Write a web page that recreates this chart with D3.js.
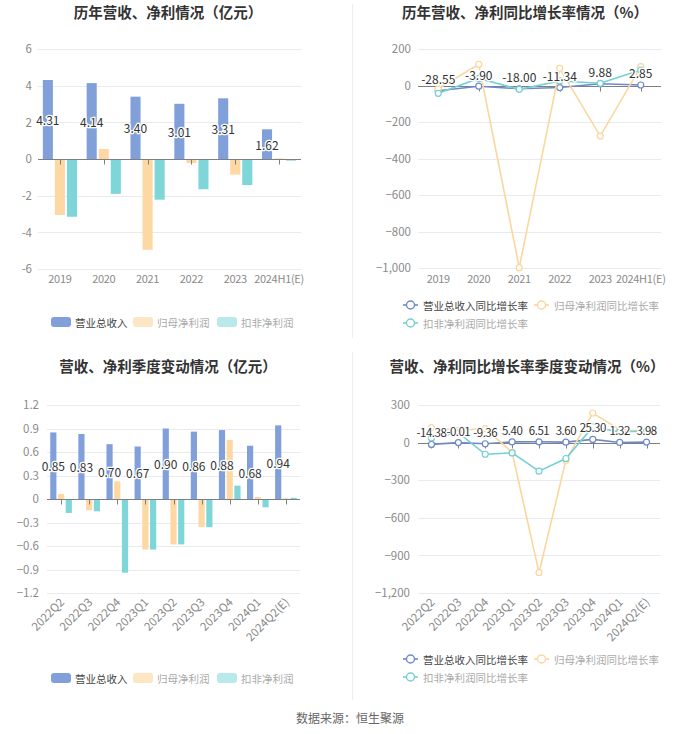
<!DOCTYPE html>
<html><head><meta charset="utf-8">
<script src="https://cdn.jsdelivr.net/npm/d3@7/dist/d3.min.js"></script>
<style>
html,body{margin:0;padding:0;background:#fff;}
svg{display:block;font-family:"Noto Sans CJK SC","Noto Sans",sans-serif;}
</style></head>
<body><svg id="c" width="700" height="734"></svg>
<script>
const yearCats = ["2019","2020","2021","2022","2023","2024H1(E)"];
const yearRevenue = [4.31,4.14,3.40,3.01,3.31,1.62];
const yearNetProfit = [-3.05,0.55,-4.95,-0.22,-0.85,0.03];
const yearDeductedProfit = [-3.15,-1.90,-2.22,-1.65,-1.42,-0.09];
const yearRevenueGrowth = [-28.55,-3.90,-18.00,-11.34,9.88,2.85];
const yearNetGrowth = [-18,116,-998,94,-277,103];
const yearDeductedGrowth = [-43,39,-21,25,12,85];

const quarterCats = ["2022Q2","2022Q3","2022Q4","2023Q1","2023Q2","2023Q3","2023Q4","2024Q1","2024Q2(E)"];
const quarterRevenue = [0.85,0.83,0.70,0.67,0.90,0.86,0.88,0.68,0.94];
const quarterNetProfit = [0.064,-0.144,0.225,-0.645,-0.58,-0.356,0.755,0.025,0.01];
const quarterDeductedProfit = [-0.178,-0.157,-0.94,-0.645,-0.58,-0.36,0.17,-0.106,0.015];
const quarterRevenueGrowth = [-14.38,-0.01,-9.36,5.40,6.51,3.60,25.30,1.32,3.98];
const quarterNetGrowth = [120,98,111,-77,-1038,-141,236,104,90];
const quarterDeductedGrowth = [37,80,-93,-82,-228,-127,125,85,93];

const barNames = ["营业总收入","归母净利润","扣非净利润"];
const lineNames = ["营业总收入同比增长率","归母净利润同比增长率","扣非净利润同比增长率"];
const titles = ["历年营收、净利情况（亿元）","历年营收、净利同比增长率情况（%）","营收、净利季度变动情况（亿元）","营收、净利同比增长率季度变动情况（%）"];
const yearBarTicks = [-6,-4,-2,0,2,4,6];
const yearLineTicks = [-1000,-800,-600,-400,-200,0,200];
const quarterBarTicks = [-1.2,-0.9,-0.6,-0.3,0,0.3,0.6,0.9,1.2];
const quarterLineTicks = [-1200,-900,-600,-300,0,300];
const sourceText = "数据来源：恒生聚源";

const barColors = ["#81a0da","#fdd8a2","#7fd6d8"];
const legendBarColors = ["#81a0da","#fde6c4","#b9e9ea"];
const lineColors = ["#6f89c8","#fbd69e","#74d0d4"];
const legendTextColors = ["#444","#aaa","#aaa"];

const svg = d3.select("#c");

svg.append("line").attr("x1",352.5).attr("x2",352.5).attr("y1",4).attr("y2",338).attr("stroke","#eeeeee");
svg.append("line").attr("x1",352.5).attr("x2",352.5).attr("y1",352).attr("y2",700).attr("stroke","#eeeeee");

function title(t,x,y){
  svg.append("text").attr("x",x).attr("y",y).attr("text-anchor","middle")
    .attr("font-size",14.5).attr("font-weight","bold").attr("fill","#333").text(t);
}
title(titles[0],168,18);
title(titles[1],525,18);
title(titles[2],168,372);
title(titles[3],527,372);

function labelText(g,x,y,t,fs,ls){
  g.append("text").attr("x",x).attr("y",y).attr("text-anchor","middle")
   .attr("dominant-baseline","central").attr("font-size",fs||12).attr("letter-spacing",ls||0).attr("fill","#333")
   .attr("stroke","#fff").attr("stroke-width",2.5).attr("paint-order","stroke").text(t);
}

function frame(cfg){
  const g = svg.append("g");
  const x = d3.scaleBand().domain(cfg.cats).range([cfg.x0,cfg.x1]);
  const y = d3.scaleLinear().domain(cfg.domain).range([cfg.yb,cfg.yt]);
  g.append("g").selectAll("line").data(cfg.ticks).join("line")
    .attr("x1",cfg.x0).attr("x2",cfg.x1)
    .attr("y1",d=>Math.round(y(d))+0.5).attr("y2",d=>Math.round(y(d))+0.5)
    .attr("stroke","#e8eaee");
  const ya = d3.axisLeft(y).tickValues(cfg.ticks).tickSize(0).tickPadding(cfg.pad).tickFormat(cfg.fmt);
  const yg = g.append("g").attr("transform",`translate(${cfg.x0},0)`).call(ya);
  yg.select(".domain").remove();
  yg.selectAll("text").attr("font-size",11.5).attr("fill","#8a8a8a").attr("font-family","'Noto Sans CJK SC',sans-serif");
  return {g,x,y};
}

function zeroAxis(g,x,y,cfg){
  const z = Math.round(y(0))+0.5;
  g.append("line").attr("x1",cfg.x0).attr("x2",cfg.x1).attr("y1",z).attr("y2",z).attr("stroke","#7d7f86");
  g.append("g").selectAll("line").data(cfg.cats).join("line")
    .attr("x1",d=>Math.round(x(d)+x.bandwidth()/2)+0.5).attr("x2",d=>Math.round(x(d)+x.bandwidth()/2)+0.5)
    .attr("y1",z).attr("y2",z+5).attr("stroke","#7d7f86");
}

function xLabels(g,x,cfg){
  const lg = g.append("g");
  cfg.cats.forEach(c=>{
    const cx = x(c)+x.bandwidth()/2;
    if(cfg.rotate){
      lg.append("text").attr("transform",`translate(${cx+4},${cfg.ly}) rotate(-45)`)
        .attr("text-anchor","end").attr("font-size",11.5).attr("fill","#8a8a8a").text(c);
    } else {
      lg.append("text").attr("x",cx).attr("y",cfg.ly).attr("text-anchor","middle")
        .attr("font-size",11).attr("letter-spacing",-0.3).attr("fill","#8a8a8a").text(c);
    }
  });
}

function barChart(cfg){
  const {g,x,y} = frame(cfg);
  const bw = x.bandwidth()*cfg.bwr, gap = x.bandwidth()*cfg.gapr;
  const groupW = bw*3+gap*2;
  cfg.series.forEach((s,i)=>{
    g.append("g").selectAll("rect").data(s).join("rect")
      .attr("x",(d,j)=>x(cfg.cats[j])+(x.bandwidth()-groupW)/2+i*(bw+gap))
      .attr("width",bw)
      .attr("y",d=>Math.min(y(d),y(0)))
      .attr("height",d=>Math.abs(y(d)-y(0)))
      .attr("fill",barColors[i]);
  });
  zeroAxis(g,x,y,cfg);
  xLabels(g,x,cfg);
  const lg = g.append("g");
  cfg.series[0].forEach((d,j)=>{
    const cx = x(cfg.cats[j])+(x.bandwidth()-groupW)/2+bw/2;
    labelText(lg,cx,(y(d)+y(0))/2,d.toFixed(2));
  });
  const leg = svg.append("g");
  const xs = [51,133,217];
  barNames.forEach((n,i)=>{
    leg.append("rect").attr("x",xs[i]).attr("y",cfg.legY-5).attr("width",20).attr("height",10).attr("rx",3).attr("fill",legendBarColors[i]);
    leg.append("text").attr("x",xs[i]+24).attr("y",cfg.legY).attr("dominant-baseline","central")
      .attr("font-size",10.5).attr("fill",legendTextColors[i]).text(n);
  });
}

function lineChart(cfg){
  const {g,x,y} = frame(cfg);
  zeroAxis(g,x,y,cfg);
  xLabels(g,x,cfg);
  const cx = c=>x(c)+x.bandwidth()/2;
  const line = d3.line().x((d,j)=>cx(cfg.cats[j])).y(d=>y(d));
  cfg.series.forEach((s,i)=>{
    g.append("path").datum(s).attr("d",line).attr("fill","none").attr("stroke",lineColors[i]).attr("stroke-width",1.6);
    g.append("g").selectAll("circle").data(s).join("circle")
      .attr("cx",(d,j)=>cx(cfg.cats[j])).attr("cy",d=>y(d)).attr("r",3)
      .attr("fill","#fff").attr("stroke",lineColors[i]).attr("stroke-width",1.2);
  });
  const lg = g.append("g");
  cfg.series[0].forEach((d,j)=>{
    labelText(lg,cx(cfg.cats[j]),y(d)-12,d.toFixed(2),cfg.lfs,cfg.lls);
  });
  const leg = svg.append("g");
  const pos = [[403,cfg.legY],[534,cfg.legY],[403,cfg.legY+18]];
  lineNames.forEach((n,i)=>{
    const [lx,ly]=pos[i];
    leg.append("line").attr("x1",lx).attr("x2",lx+15).attr("y1",ly).attr("y2",ly).attr("stroke",lineColors[i]).attr("stroke-width",1.6);
    leg.append("circle").attr("cx",lx+7.5).attr("cy",ly).attr("r",4).attr("fill","#fff").attr("stroke",lineColors[i]).attr("stroke-width",1.4);
    leg.append("text").attr("x",lx+20).attr("y",ly).attr("dominant-baseline","central")
      .attr("font-size",10.5).attr("fill",legendTextColors[i]).text(n);
  });
}

const fmtComma = d3.format(",");
const fmtQ = d=> d===0?"0":d3.format(".1f")(d);

barChart({cats:yearCats,series:[yearRevenue,yearNetProfit,yearDeductedProfit],
  x0:38,x1:301,yt:49,yb:269,domain:[-6,6],ticks:yearBarTicks,fmt:d=>d,pad:6,
  bwr:0.23,gapr:0.045,ly:283,rotate:false,legY:322});

lineChart({cats:yearCats,series:[yearRevenueGrowth,yearNetGrowth,yearDeductedGrowth],
  x0:418,x1:661,yt:49,yb:268,domain:[-1000,200],ticks:yearLineTicks,fmt:fmtComma,pad:7,
  ly:283,rotate:false,legY:305,lfs:12,lls:0});

barChart({cats:quarterCats,series:[quarterRevenue,quarterNetProfit,quarterDeductedProfit],
  x0:47,x1:300,yt:405,yb:593,domain:[-1.2,1.2],ticks:quarterBarTicks,fmt:fmtQ,pad:8,
  bwr:0.22,gapr:0.055,ly:603,rotate:true,legY:678});

lineChart({cats:quarterCats,series:[quarterRevenueGrowth,quarterNetGrowth,quarterDeductedGrowth],
  x0:418,x1:660,yt:405,yb:593,domain:[-1200,300],ticks:quarterLineTicks,fmt:fmtComma,pad:8,
  ly:603,rotate:true,legY:659,lfs:11.5,lls:-0.5});

svg.append("text").attr("x",350).attr("y",717).attr("text-anchor","middle").attr("dominant-baseline","central")
  .attr("font-size",12).attr("fill","#666").text(sourceText);
</script></body></html>
